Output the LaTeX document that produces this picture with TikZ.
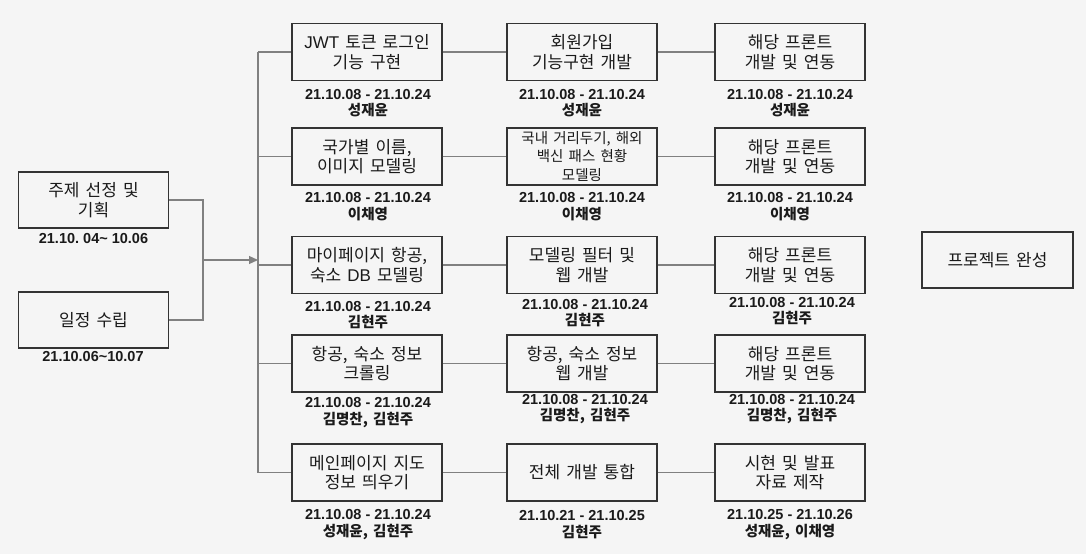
\documentclass[tikz,border=0pt]{standalone}
\usepackage{fontspec}
\setmainfont{Liberation Sans}
\newfontfamily\kr{Noto Sans CJK KR}[WordSpace=1.6]
\usetikzlibrary{arrows.meta}
\definecolor{bgc}{HTML}{F5F5F5}
\definecolor{boxc}{HTML}{333333}
\definecolor{linec}{HTML}{808080}
\definecolor{txtc}{HTML}{1A1A1A}
\newcommand{\lt}[1]{{\rmfamily #1}}
\newcommand{\who}[1]{{\kr\bfseries\fontsize{14.5}{16.5}\selectfont #1}}
\tikzset{
  task/.style={draw=boxc, line width=1.3pt, minimum width=150pt, minimum height=57pt,
    inner sep=0pt, align=center, text=txtc, font=\kr\fontsize{17}{19.5}\selectfont},
  small/.style={font=\kr\fontsize{14.5}{18.5}\selectfont},
  info/.style={align=center, inner sep=0pt, text=txtc, font=\frenchspacing\bfseries\fontsize{14.5}{16.5}\selectfont},
  link/.style={draw=linec, line width=1.2pt},
}
\begin{document}
\begin{tikzpicture}[x=1pt,y=-1pt]
\fill[bgc] (0,0) rectangle (1086,554);
% left column
\node[task, minimum height=56pt] (plan) at (93.5,200) {주제 선정 및\\기획};
\node[info] (planD) at (93.5,239) {21.10. 04\textasciitilde{} 10.06};
\node[task, minimum height=56pt] (sched) at (93.5,320) {일정 수립};
\node[info] (schedD) at (93,357) {21.10.06\textasciitilde10.07};
% junctions
\coordinate (m) at (203,260);
\coordinate (bj) at (258,260);
\coordinate (j1) at (258,52);
\coordinate (j2) at (258,156.5);
\coordinate (j3) at (258,265);
\coordinate (j4) at (258,363.5);
\coordinate (j5) at (258,472.5);
% column 1
\node[task] (a1) at (367,52) {\lt{JWT} 토큰 로그인\\기능 구현};
\node[task] (a2) at (367,156.5) {국가별 이름,\\이미지 모델링};
\node[task] (a3) at (367,265) {마이페이지 항공,\\숙소 \lt{DB} 모델링};
\node[task] (a4) at (367,363.5) {항공, 숙소 정보\\크롤링};
\node[task] (a5) at (367,472.5) {메인페이지 지도\\정보 띄우기};
% column 2
\node[task] (b1) at (582,52) {회원가입\\기능구현 개발};
\node[task, small] (b2) at (582,156.5) {국내 거리두기, 해외\\백신 패스 현황\\모델링};
\node[task] (b3) at (582,265) {모델링 필터 및\\웹 개발};
\node[task] (b4) at (582,363.5) {항공, 숙소 정보\\웹 개발};
\node[task] (b5) at (582,472.5) {전체 개발 통합};
% column 3
\node[task] (c1) at (790,52) {해당 프론트\\개발 및 연동};
\node[task] (c2) at (790,156.5) {해당 프론트\\개발 및 연동};
\node[task] (c3) at (790,265) {해당 프론트\\개발 및 연동};
\node[task] (c4) at (790,363.5) {해당 프론트\\개발 및 연동};
\node[task] (c5) at (790,472.5) {시현 및 발표\\자료 제작};
% final
\node[task, minimum width=151pt, minimum height=56pt] (done) at (997.5,260) {프로젝트 완성};
% info labels
\node[info] (ia1) at (368,103) {21.10.08 - 21.10.24\\\who{성재윤}};
\node[info] (ib1) at (582,103) {21.10.08 - 21.10.24\\\who{성재윤}};
\node[info] (ic1) at (790,103) {21.10.08 - 21.10.24\\\who{성재윤}};
\node[info] (ia2) at (368,206.5) {21.10.08 - 21.10.24\\\who{이채영}};
\node[info] (ib2) at (582,206.5) {21.10.08 - 21.10.24\\\who{이채영}};
\node[info] (ic2) at (790,206.5) {21.10.08 - 21.10.24\\\who{이채영}};
\node[info] (ia3) at (368,315) {21.10.08 - 21.10.24\\\who{김현주}};
\node[info] (ib3) at (585,313) {21.10.08 - 21.10.24\\\who{김현주}};
\node[info] (ic3) at (792,311) {21.10.08 - 21.10.24\\\who{김현주}};
\node[info] (ia4) at (368,412.5) {21.10.08 - 21.10.24\\\who{김명찬, 김현주}};
\node[info] (ib4) at (585,409) {21.10.08 - 21.10.24\\\who{김명찬, 김현주}};
\node[info] (ic4) at (792,409) {21.10.08 - 21.10.24\\\who{김명찬, 김현주}};
\node[info] (ia5) at (368,524.5) {21.10.08 - 21.10.24\\\who{성재윤, 김현주}};
\node[info] (ib5) at (582,524.5) {21.10.21 - 21.10.25\\\who{김현주}};
\node[info] (ic5) at (790,524.5) {21.10.25 - 21.10.26\\\who{성재윤, 이채영}};
% connectors
\draw[link] (plan.east) -| (m);
\draw[link] (sched.east) -| (m);
\draw[link, -{Triangle[length=9pt,width=8pt]}] (m) -- (bj);
\draw[link] (j1) -- (j5);
\foreach \r in {1,...,5}{
  \draw[link] (j\r) -- (a\r.west);
  \draw[link] (a\r.east) -- (b\r.west);
  \draw[link] (b\r.east) -- (c\r.west);
}
\end{tikzpicture}
\end{document}
